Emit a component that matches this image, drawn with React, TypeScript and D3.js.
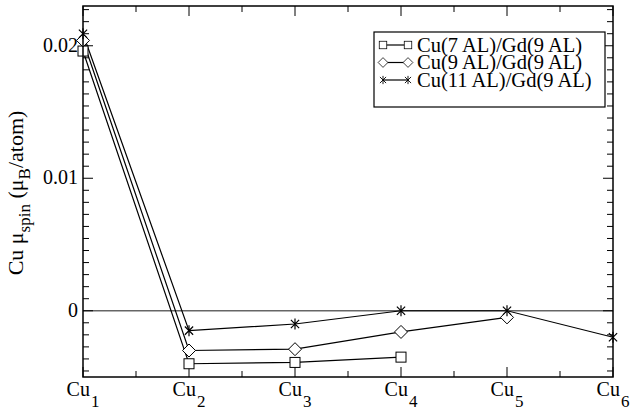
import React, { useEffect, useRef } from 'react';
import * as d3 from 'd3';

// Cu sites along the x axis
const sites = ['1', '2', '3', '4', '5', '6'];

// spin moments in mu_B/atom, one array per film
const cu7 = [0.0196, -0.0040, -0.0039, -0.0035];
const cu9 = [0.0204, -0.0030, -0.0029, -0.0016, -0.0005];
const cu11 = [0.0209, -0.0015, -0.0010, 0.0, 0.0, -0.0020];

const yTicks = [0, 0.01, 0.02];
const legendLabels = ['Cu(7 AL)/Gd(9 AL)', 'Cu(9 AL)/Gd(9 AL)', 'Cu(11 AL)/Gd(9 AL)'];

const W = 631, H = 412;
const margin = {top: 6, right: 18, bottom: 35, left: 83};
const FONT = 'Liberation Serif';

export default function App() {
    const ref = useRef<SVGSVGElement>(null);

    useEffect(() => {
        const svg = d3.select(ref.current);
        svg.selectAll('*').remove();

        const width = W - margin.left - margin.right;
        const height = H - margin.top - margin.bottom;

        const x = d3.scaleLinear().domain([0, sites.length - 1]).range([0, width]);
        const y = d3.scaleLinear().domain([-0.005, 0.023]).range([height, 0]);

        const g = svg.append('g')
            .attr('transform', 'translate(' + margin.left + ',' + margin.top + ')');

        // zero line
        g.append('line')
            .attr('x1', 0).attr('x2', width)
            .attr('y1', y(0)).attr('y2', y(0))
            .style('stroke', '#666')
            .style('stroke-width', 1.5);

        // ticks, mirrored on all four sides (10 minor ticks per 0.01)
        const minorY: number[] = [];
        const step = 0.01 / 11;
        for (let i = -6; i <= 26; i++) {
            const v = i * step;
            if (i % 11 === 0) continue;
            if (v < -0.005 || v > 0.023) continue;
            minorY.push(v);
        }
        const tickG = g.append('g').style('stroke', '#000').style('stroke-width', 1);
        minorY.forEach(v => {
            tickG.append('line').attr('x1', 0).attr('x2', 6).attr('y1', y(v)).attr('y2', y(v));
            tickG.append('line').attr('x1', width).attr('x2', width - 6).attr('y1', y(v)).attr('y2', y(v));
        });
        yTicks.forEach(v => {
            tickG.append('line').attr('x1', 0).attr('x2', 10).attr('y1', y(v)).attr('y2', y(v));
            tickG.append('line').attr('x1', width).attr('x2', width - 10).attr('y1', y(v)).attr('y2', y(v));
        });
        for (let i = 0; i < sites.length; i++) {
            tickG.append('line').attr('x1', x(i)).attr('x2', x(i)).attr('y1', height).attr('y2', height - 10);
            tickG.append('line').attr('x1', x(i)).attr('x2', x(i)).attr('y1', 0).attr('y2', 10);
            if (i < sites.length - 1) {
                const m = x(i + 0.5);
                tickG.append('line').attr('x1', m).attr('x2', m).attr('y1', height).attr('y2', height - 6);
                tickG.append('line').attr('x1', m).attr('x2', m).attr('y1', 0).attr('y2', 6);
            }
        }

        // y tick labels
        g.selectAll('.ylab')
            .data(yTicks)
            .enter()
            .append('text')
            .attr('x', -5)
            .attr('y', d => y(d) + 6)
            .attr('text-anchor', 'end')
            .style('font-family', FONT)
            .style('font-size', '20px')
            .text(d => d === 0 ? '0' : d3.format('.2f')(d));

        // x tick labels, Cu with subscript
        sites.forEach((s, i) => {
            const t = g.append('text')
                .attr('x', x(i))
                .attr('y', height + 19)
                .attr('text-anchor', 'middle')
                .style('font-family', FONT)
                .style('font-size', '20px');
            t.append('tspan').text('Cu');
            t.append('tspan').attr('dy', 11).attr('dx', 1).style('font-size', '17px').text(s);
        });

        // y axis title
        const yt = svg.append('text')
            .attr('transform', 'translate(23,193) rotate(-90)')
            .attr('text-anchor', 'middle')
            .style('font-family', FONT)
            .style('font-size', '22px');
        yt.append('tspan').text('Cu μ');
        yt.append('tspan').attr('dy', 7).style('font-size', '17px').text('spin');
        yt.append('tspan').attr('dy', -7).text(' (μ');
        yt.append('tspan').attr('dy', 7).style('font-size', '17px').text('B');
        yt.append('tspan').attr('dy', -7).text('/atom)');

        const line = d3.line<number>()
            .x((d, i) => x(i))
            .y(d => y(d));

        const series = [cu7, cu9, cu11];
        series.forEach(data => {
            g.append('path')
                .datum(data)
                .attr('d', line)
                .style('fill', 'none')
                .style('stroke', '#000')
                .style('stroke-width', 1.2);
        });

        // markers
        const drawMarker = (sel: any, kind: number, cx: number, cy: number) => {
            if (kind === 0) {
                sel.append('rect')
                    .attr('x', cx - 5).attr('y', cy - 5)
                    .attr('width', 10).attr('height', 10)
                    .style('fill', '#fff').style('stroke', '#000').style('stroke-width', 1);
            } else if (kind === 1) {
                const r = 6.5;
                sel.append('path')
                    .attr('d', 'M' + cx + ',' + (cy - r) + 'L' + (cx + r) + ',' + cy + 'L' + cx + ',' + (cy + r) + 'L' + (cx - r) + ',' + cy + 'Z')
                    .style('fill', '#fff').style('stroke', '#000').style('stroke-width', 1);
            } else {
                const r = 5.5;
                const d = r * 0.75;
                sel.append('path')
                    .attr('d', 'M' + cx + ',' + (cy - r) + 'V' + (cy + r)
                        + 'M' + (cx - d) + ',' + (cy - d) + 'L' + (cx + d) + ',' + (cy + d)
                        + 'M' + (cx - d) + ',' + (cy + d) + 'L' + (cx + d) + ',' + (cy - d))
                    .style('fill', 'none').style('stroke', '#000').style('stroke-width', 1.2);
            }
        };
        series.forEach((data, k) => {
            data.forEach((v, i) => drawMarker(g, k, x(i), y(v)));
        });

        // frame
        g.append('rect')
            .attr('width', width)
            .attr('height', height)
            .style('fill', 'none')
            .style('stroke', '#000')
            .style('stroke-width', 1.5);

        // legend
        const lg = svg.append('g');
        lg.append('rect')
            .attr('x', 374).attr('y', 32)
            .attr('width', 231).attr('height', 75)
            .style('fill', '#fff')
            .style('stroke', '#000')
            .style('stroke-width', 1.2);
        legendLabels.forEach((lab, k) => {
            const cy = 45 + k * 17.5;
            lg.append('line')
                .attr('x1', 383).attr('x2', 408)
                .attr('y1', cy).attr('y2', cy)
                .style('stroke', '#000').style('stroke-width', 1.2);
            const mg = lg.append('g');
            [383, 408].forEach(mx => {
                const m = mg.append('g')
                    .attr('transform', 'translate(' + mx + ',' + cy + ') scale(0.75)');
                drawMarker(m, k, 0, 0);
            });
            lg.append('text')
                .attr('x', 417)
                .attr('y', cy + 6.5)
                .style('font-family', FONT)
                .style('font-size', '20.5px')
                .text(lab);
        });
    }, []);

    return (
        <svg ref={ref} width={W} height={H}
            style={{position: 'absolute', left: 0, top: 0, background: '#fff'}} />
    );
}
